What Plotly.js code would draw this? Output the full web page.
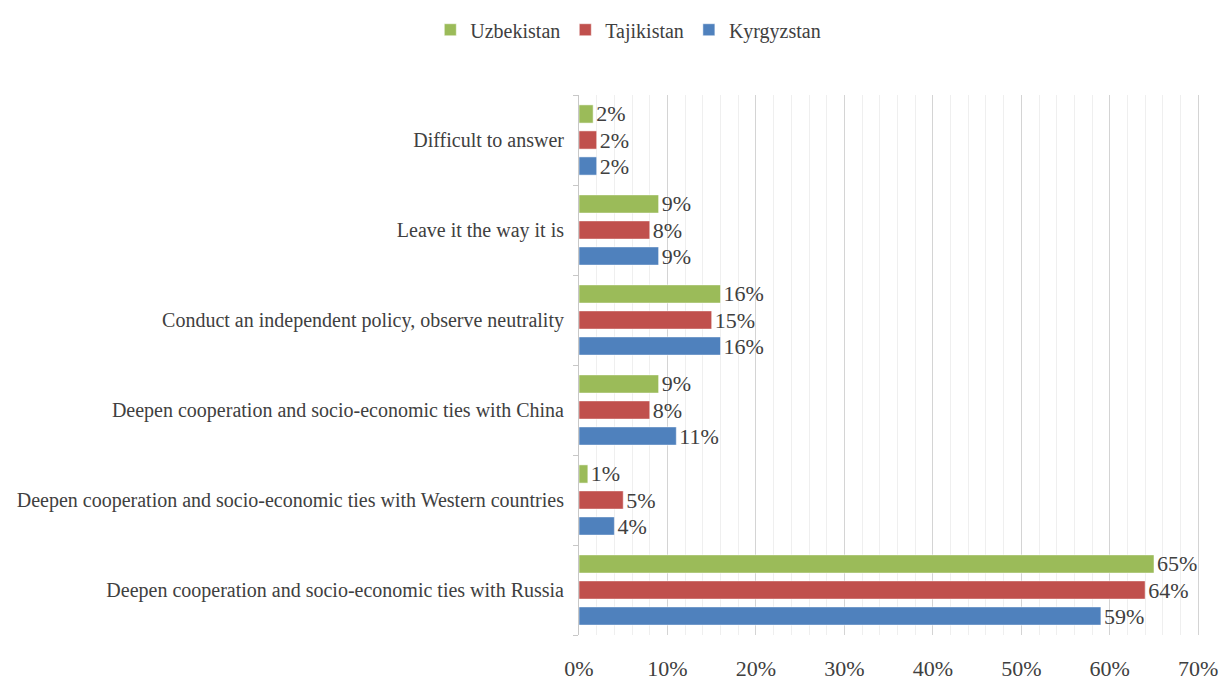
<!DOCTYPE html>
<html>
<head>
<meta charset="utf-8">
<script src="https://cdn.plot.ly/plotly-3.0.1.min.js"></script>
<style>html,body{margin:0;padding:0;background:#fff;}#chart{width:1220px;height:683px;}</style>
</head>
<body>
<div id="chart"></div>
<script>
// Categories listed bottom to top
const categories = [
  "Deepen cooperation and socio-economic ties with Russia",
  "Deepen cooperation and socio-economic ties with Western countries",
  "Deepen cooperation and socio-economic ties with China",
  "Conduct an independent policy, observe neutrality",
  "Leave it the way it is",
  "Difficult to answer"
];
const kyrgyzstan = [59, 4, 11, 16, 9, 2];
const tajikistan = [64, 5, 8, 15, 8, 2];
const uzbekistan = [65, 1, 9, 16, 9, 1.6];
const seriesNames = ["Kyrgyzstan", "Tajikistan", "Uzbekistan"];
const seriesColors = ["#4F81BD", "#C0504D", "#9BBB59"];
const xTicks = [0, 10, 20, 30, 40, 50, 60, 70];

const font = "'Liberation Serif', 'Times New Roman', serif";
const seriesData = [kyrgyzstan, tajikistan, uzbekistan];
const traces = seriesData.map((vals, i) => ({
  type: "bar",
  orientation: "h",
  name: seriesNames[i],
  y: categories,
  x: vals,
  marker: {color: seriesColors[i], line: {color: "rgba(255,255,255,0.5)", width: 1}},
  text: vals.map(v => Math.round(v) + "%"),
  textposition: "outside",
  constraintext: "none",
  cliponaxis: false,
  textfont: {family: font, size: 22, color: "#404040"},
  hoverinfo: "x+name"
}));

const layout = {
  width: 1220, height: 683,
  margin: {l: 579, r: 20, t: 95, b: 48},
  paper_bgcolor: "#fff", plot_bgcolor: "#fff",
  barmode: "group",
  bargap: 0.133,
  bargroupgap: 0.3,
  font: {family: font, color: "#404040"},
  showlegend: true,
  legend: {
    orientation: "h", traceorder: "reversed",
    xref: "container", yref: "container",
    x: 0.515, xanchor: "center", y: 0.985, yanchor: "top",
    font: {family: font, size: 20, color: "#404040"},
    itemwidth: 30
  },
  xaxis: {
    range: [0, 70.2],
    tickvals: xTicks,
    ticktext: xTicks.map(t => t + "%"),
    showgrid: true, gridcolor: "#d4d4d4", gridwidth: 1,
    minor: {dtick: 2, showgrid: true, gridcolor: "#efefef", gridwidth: 1},
    zeroline: false, showline: false,
    ticks: "", ticklabelstandoff: 18,
    tickfont: {family: font, size: 22, color: "#404040"},
    fixedrange: true
  },
  yaxis: {
    type: "category",
    showline: true, linecolor: "#c8c8c8", linewidth: 1,
    ticks: "outside", ticklen: 5, tickcolor: "#c8c8c8",
    tickson: "boundaries",
    showgrid: false, zeroline: false,
    ticklabelstandoff: 10,
    tickfont: {family: font, size: 20, color: "#404040"},
    fixedrange: true
  }
};

Plotly.newPlot("chart", traces, layout, {displayModeBar: false, staticPlot: true});
</script>
</body>
</html>
